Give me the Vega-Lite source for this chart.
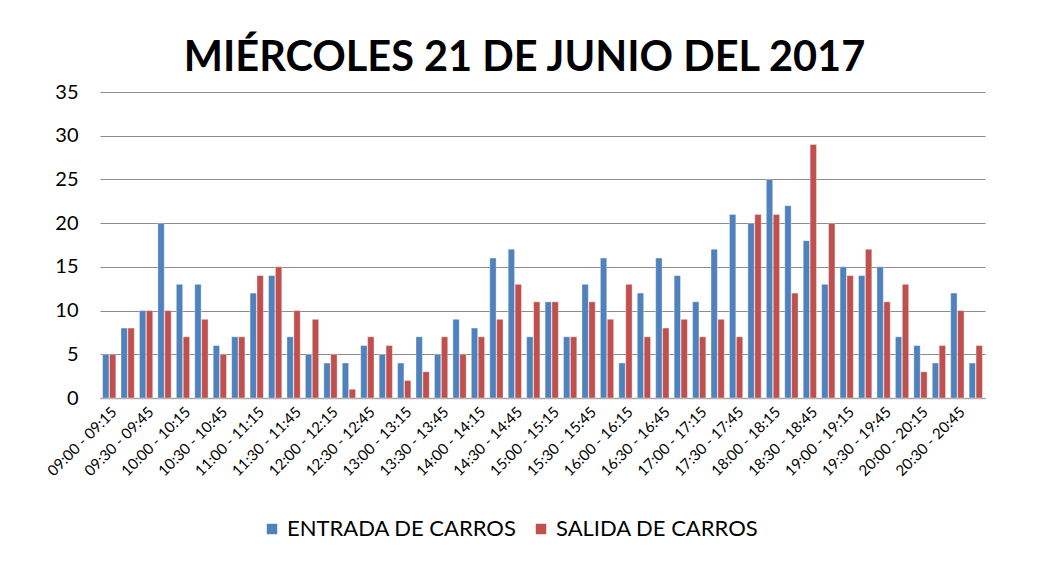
{
  "$schema": "https://vega.github.io/schema/vega-lite/v6.json",
  "width": 885,
  "height": 306,
  "autosize": {"type": "none"},
  "padding": {"left": 100, "top": 92, "right": 55, "bottom": 188},
  "background": "white",
  "title": {"text": "MIÉRCOLES 21 DE JUNIO DEL 2017", "font": "Lato", "fontSize": 41.5, "fontWeight": "bold", "color": "black", "anchor": "middle", "offset": 3, "dx": -18},
  "data": {"values": [
    {"intervalo": "09:00 - 09:15", "ENTRADA DE CARROS": 5, "SALIDA DE CARROS": 5},
    {"intervalo": "09:15 - 09:30", "ENTRADA DE CARROS": 8, "SALIDA DE CARROS": 8},
    {"intervalo": "09:30 - 09:45", "ENTRADA DE CARROS": 10, "SALIDA DE CARROS": 10},
    {"intervalo": "09:45 - 10:00", "ENTRADA DE CARROS": 20, "SALIDA DE CARROS": 10},
    {"intervalo": "10:00 - 10:15", "ENTRADA DE CARROS": 13, "SALIDA DE CARROS": 7},
    {"intervalo": "10:15 - 10:30", "ENTRADA DE CARROS": 13, "SALIDA DE CARROS": 9},
    {"intervalo": "10:30 - 10:45", "ENTRADA DE CARROS": 6, "SALIDA DE CARROS": 5},
    {"intervalo": "10:45 - 11:00", "ENTRADA DE CARROS": 7, "SALIDA DE CARROS": 7},
    {"intervalo": "11:00 - 11:15", "ENTRADA DE CARROS": 12, "SALIDA DE CARROS": 14},
    {"intervalo": "11:15 - 11:30", "ENTRADA DE CARROS": 14, "SALIDA DE CARROS": 15},
    {"intervalo": "11:30 - 11:45", "ENTRADA DE CARROS": 7, "SALIDA DE CARROS": 10},
    {"intervalo": "11:45 - 12:00", "ENTRADA DE CARROS": 5, "SALIDA DE CARROS": 9},
    {"intervalo": "12:00 - 12:15", "ENTRADA DE CARROS": 4, "SALIDA DE CARROS": 5},
    {"intervalo": "12:15 - 12:30", "ENTRADA DE CARROS": 4, "SALIDA DE CARROS": 1},
    {"intervalo": "12:30 - 12:45", "ENTRADA DE CARROS": 6, "SALIDA DE CARROS": 7},
    {"intervalo": "12:45 - 13:00", "ENTRADA DE CARROS": 5, "SALIDA DE CARROS": 6},
    {"intervalo": "13:00 - 13:15", "ENTRADA DE CARROS": 4, "SALIDA DE CARROS": 2},
    {"intervalo": "13:15 - 13:30", "ENTRADA DE CARROS": 7, "SALIDA DE CARROS": 3},
    {"intervalo": "13:30 - 13:45", "ENTRADA DE CARROS": 5, "SALIDA DE CARROS": 7},
    {"intervalo": "13:45 - 14:00", "ENTRADA DE CARROS": 9, "SALIDA DE CARROS": 5},
    {"intervalo": "14:00 - 14:15", "ENTRADA DE CARROS": 8, "SALIDA DE CARROS": 7},
    {"intervalo": "14:15 - 14:30", "ENTRADA DE CARROS": 16, "SALIDA DE CARROS": 9},
    {"intervalo": "14:30 - 14:45", "ENTRADA DE CARROS": 17, "SALIDA DE CARROS": 13},
    {"intervalo": "14:45 - 15:00", "ENTRADA DE CARROS": 7, "SALIDA DE CARROS": 11},
    {"intervalo": "15:00 - 15:15", "ENTRADA DE CARROS": 11, "SALIDA DE CARROS": 11},
    {"intervalo": "15:15 - 15:30", "ENTRADA DE CARROS": 7, "SALIDA DE CARROS": 7},
    {"intervalo": "15:30 - 15:45", "ENTRADA DE CARROS": 13, "SALIDA DE CARROS": 11},
    {"intervalo": "15:45 - 16:00", "ENTRADA DE CARROS": 16, "SALIDA DE CARROS": 9},
    {"intervalo": "16:00 - 16:15", "ENTRADA DE CARROS": 4, "SALIDA DE CARROS": 13},
    {"intervalo": "16:15 - 16:30", "ENTRADA DE CARROS": 12, "SALIDA DE CARROS": 7},
    {"intervalo": "16:30 - 16:45", "ENTRADA DE CARROS": 16, "SALIDA DE CARROS": 8},
    {"intervalo": "16:45 - 17:00", "ENTRADA DE CARROS": 14, "SALIDA DE CARROS": 9},
    {"intervalo": "17:00 - 17:15", "ENTRADA DE CARROS": 11, "SALIDA DE CARROS": 7},
    {"intervalo": "17:15 - 17:30", "ENTRADA DE CARROS": 17, "SALIDA DE CARROS": 9},
    {"intervalo": "17:30 - 17:45", "ENTRADA DE CARROS": 21, "SALIDA DE CARROS": 7},
    {"intervalo": "17:45 - 18:00", "ENTRADA DE CARROS": 20, "SALIDA DE CARROS": 21},
    {"intervalo": "18:00 - 18:15", "ENTRADA DE CARROS": 25, "SALIDA DE CARROS": 21},
    {"intervalo": "18:15 - 18:30", "ENTRADA DE CARROS": 22, "SALIDA DE CARROS": 12},
    {"intervalo": "18:30 - 18:45", "ENTRADA DE CARROS": 18, "SALIDA DE CARROS": 29},
    {"intervalo": "18:45 - 19:00", "ENTRADA DE CARROS": 13, "SALIDA DE CARROS": 20},
    {"intervalo": "19:00 - 19:15", "ENTRADA DE CARROS": 15, "SALIDA DE CARROS": 14},
    {"intervalo": "19:15 - 19:30", "ENTRADA DE CARROS": 14, "SALIDA DE CARROS": 17},
    {"intervalo": "19:30 - 19:45", "ENTRADA DE CARROS": 15, "SALIDA DE CARROS": 11},
    {"intervalo": "19:45 - 20:00", "ENTRADA DE CARROS": 7, "SALIDA DE CARROS": 13},
    {"intervalo": "20:00 - 20:15", "ENTRADA DE CARROS": 6, "SALIDA DE CARROS": 3},
    {"intervalo": "20:15 - 20:30", "ENTRADA DE CARROS": 4, "SALIDA DE CARROS": 6},
    {"intervalo": "20:30 - 20:45", "ENTRADA DE CARROS": 12, "SALIDA DE CARROS": 10},
    {"intervalo": "20:45 - 21:00", "ENTRADA DE CARROS": 4, "SALIDA DE CARROS": 6}
  ]},
  "transform": [{"fold": ["ENTRADA DE CARROS", "SALIDA DE CARROS"], "as": ["serie", "valor"]}],
  "mark": {"type": "bar", "stroke": "white", "strokeWidth": 0.6, "strokeOpacity": 0.6},
  "encoding": {
    "x": {
      "field": "intervalo", "type": "nominal", "sort": null,
      "scale": {"paddingInner": 0.28, "paddingOuter": 0.14},
      "axis": {
        "title": null,
        "values": ["09:00 - 09:15", "09:30 - 09:45", "10:00 - 10:15", "10:30 - 10:45", "11:00 - 11:15", "11:30 - 11:45", "12:00 - 12:15", "12:30 - 12:45", "13:00 - 13:15", "13:30 - 13:45", "14:00 - 14:15", "14:30 - 14:45", "15:00 - 15:15", "15:30 - 15:45", "16:00 - 16:15", "16:30 - 16:45", "17:00 - 17:15", "17:30 - 17:45", "18:00 - 18:15", "18:30 - 18:45", "19:00 - 19:15", "19:30 - 19:45", "20:00 - 20:15", "20:30 - 20:45"],
        "labelAngle": -45, "labelFont": "Lato", "labelFontSize": 15, "labelColor": "black",
        "labelPadding": 6, "ticks": false, "domainColor": "#a6a6a6", "domainWidth": 1.5, "labelOverlap": false
      }
    },
    "xOffset": {"field": "serie", "sort": ["ENTRADA DE CARROS", "SALIDA DE CARROS"], "scale": {"paddingInner": 0.08}},
    "y": {
      "field": "valor", "type": "quantitative",
      "scale": {"domain": [0, 35], "nice": false},
      "axis": {
        "title": null, "values": [0, 5, 10, 15, 20, 25, 30, 35], "domain": false, "ticks": false,
        "labelFont": "Lato", "labelFontSize": 20, "labelColor": "black", "labelPadding": 22,
        "gridColor": "#8c8c8c", "gridWidth": 1.2
      }
    },
    "color": {
      "field": "serie", "type": "nominal",
      "scale": {"domain": ["ENTRADA DE CARROS", "SALIDA DE CARROS"], "range": ["#4F81BD", "#C0504D"]},
      "legend": {
        "title": null, "orient": "none", "legendX": 161, "legendY": 426, "direction": "horizontal", "labelFont": "Lato", "labelFontSize": 22,
        "labelColor": "black", "symbolType": "square", "symbolSize": 110, "symbolStrokeWidth": 0,
        "columnPadding": 13, "labelLimit": 400
      }
    }
  },
  "config": {"view": {"stroke": null}}
}
